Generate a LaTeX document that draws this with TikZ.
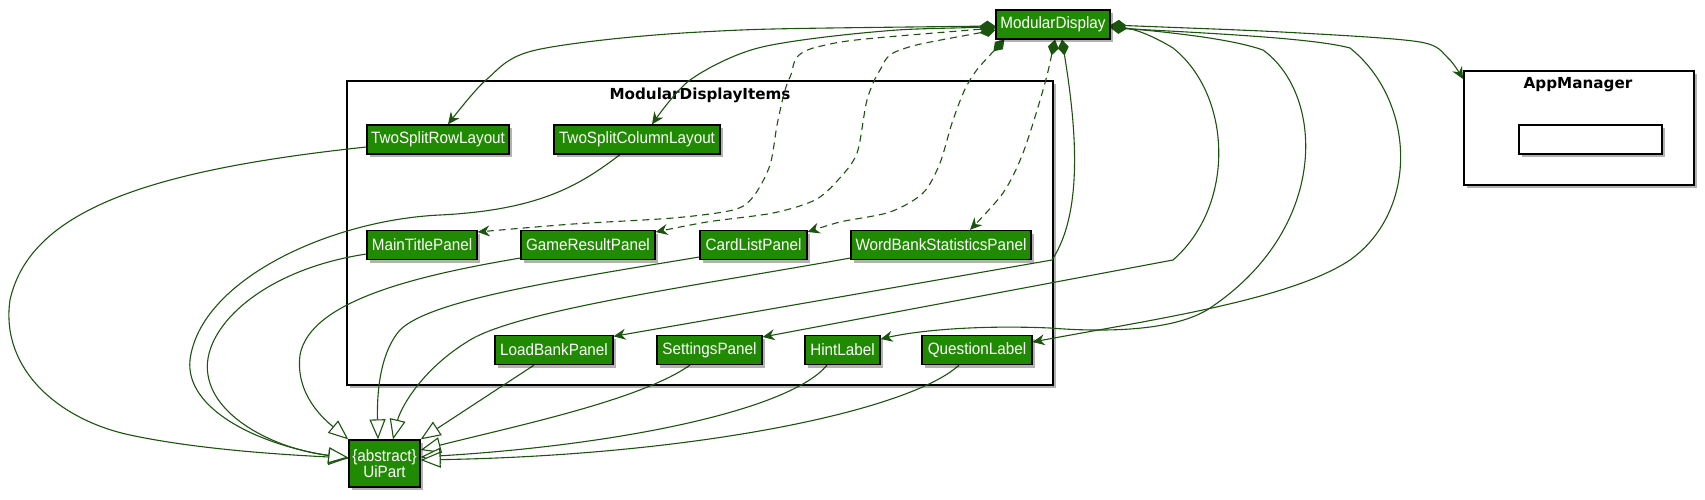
\documentclass[tikz,border=0pt]{standalone}
\usepackage{fontspec}
\setmainfont{Liberation Sans}
\newfontfamily\classfont{Liberation Sans}[FakeStretch=0.93]
\newfontfamily\titlefont{DejaVu Sans}
\usetikzlibrary{arrows.meta,shadows,calc}
\pgfdeclarelayer{bg}
\pgfdeclarelayer{edges}
\pgfsetlayers{bg,edges,main}
\definecolor{cfill}{RGB}{33,138,3}
\definecolor{ecol}{RGB}{26,84,14}
\begin{document}
\begin{tikzpicture}[x=1pt,y=-1pt,
  shad/.style={drop shadow={shadow xshift=3pt,shadow yshift=-3pt,opacity=0.3,fill=black}},
  cls/.style={draw=black,line width=1.3pt,fill=cfill,text=white,inner sep=0pt,minimum height=29pt,
    font=\classfont\fontsize{16.4}{17}\selectfont,shad},
  frm/.style={draw=black,line width=1.8pt,fill=white,inner sep=0pt,shad},
  ttl/.style={font=\titlefont\bfseries\fontsize{15.2}{17}\selectfont,inner sep=0pt},
  comp/.style={draw=ecol,line width=1.1pt,{Diamond[length=16pt,width=11pt,fill=ecol]}-{Stealth[length=12pt,width=11pt,inset=4pt,fill=ecol]}},
  compd/.style={comp,dash pattern=on 7pt off 5pt},
  inh/.style={draw=ecol,line width=1.1pt,-{Triangle[length=20pt,width=16pt,fill=white]}},
]
\useasboundingbox (0,0) rectangle (1705,499);

% frames
\begin{pgfonlayer}{bg}
\node[frm,minimum width=706pt,minimum height=304pt] (mdi) at (700,233) {};
\node[ttl] (mdititle) at (700,95) {ModularDisplayItems};
\node[frm,minimum width=230pt,minimum height=114pt] (am) at (1579,128) {};
\node[ttl] (amtitle) at (1578,85) {AppManager};
\node[draw=black,line width=1.3pt,fill=white,minimum width=143pt,minimum height=29pt,inner sep=0pt,shad] (aminner) at (1590.5,139.5) {};
\end{pgfonlayer}

% classes
\node[cls,minimum width=114pt] (md) at (1053,24.5) {ModularDisplay};
\node[cls,minimum width=142pt] (tsrl) at (438,139.5) {TwoSplitRowLayout};
\node[cls,minimum width=166pt] (tscl) at (637,139.5) {TwoSplitColumnLayout};
\node[cls,minimum width=110pt] (mtp) at (422,245) {MainTitlePanel};
\node[cls,minimum width=134pt] (grp) at (588,245) {GameResultPanel};
\node[cls,minimum width=107pt] (clp) at (753.5,245) {CardListPanel};
\node[cls,minimum width=180pt] (wbsp) at (941,245) {WordBankStatisticsPanel};
\node[cls,minimum width=118pt] (lbp) at (554,350) {LoadBankPanel};
\node[cls,minimum width=105pt] (sp) at (709.5,350) {SettingsPanel};
\node[cls,minimum width=75pt] (hl) at (842.5,350) {HintLabel};
\node[cls,minimum width=110pt] (ql) at (977,350) {QuestionLabel};
\node[cls,minimum width=71pt,minimum height=47pt,align=center,font=\classfont\fontsize{16.4}{15.5}\selectfont] (ui) at (384.5,463.5) {\{abstract\}\\UiPart};

\begin{pgfonlayer}{edges}
% composition from ModularDisplay
\draw[comp] plot[smooth,tension=0.5] coordinates {($(md.west)+(0,1.5)$) (700,32) (536,50) (486,80) ($(tsrl.north)+(10,0)$)};
\draw[comp] plot[smooth,tension=0.5] coordinates {($(md.west)+(0,2.5)$) (873,32) (758,48) (690,80) ($(tscl.north)+(15,0)$)};
\draw[compd] plot[smooth,tension=0.5] coordinates {($(md.west)+(0,3.5)$) (817,47) (790,77) (778,120) (770,165) (753,197) (733,210) (673,218) (573,224) ($(mtp.east)+(0,-13)$)};
\draw[compd] plot[smooth,tension=0.5] coordinates {($(md.west)+(0,5.5)$) (900,50) (880,70) (867,100) (857,153) (838,180) (815,200) (773,213) (707,222) ($(grp.east)+(0,-13)$)};
\draw[compd] plot[smooth,tension=0.5] coordinates {($(md.south west)+(9,0)$) (970,80) (953,120) (940,163) (923,193) (890,212) (840,222) ($(clp.east)+(0,-13)$)};
\draw[compd] plot[smooth,tension=0.5] coordinates {($(md.south)+(2,0)$) (1043,90) (1023,153) (1003,193) ($(wbsp.north)+(29,0)$)};
\draw[comp] ($(md.south)+(9,0)$) .. controls (1075,120) and (1085,210) .. (1052,260) -- ($(lbp.north east)+(0,1.5)$);
\draw[comp] ($(md.east)+(0,1.5)$) .. controls (1140,30) and (1160,40) .. (1173,48) .. controls (1232,95) and (1236,205) .. (1173,260) -- ($(sp.east)+(0,-13)$);
\draw[comp] ($(md.east)+(0,2.5)$) .. controls (1200,35) and (1240,42) .. (1263,50) .. controls (1325,95) and (1330,230) .. (1207,310) .. controls (1170,332) and (1100,332) .. (1050,328) .. controls (980,325) and (920,330) .. ($(hl.east)+(0,-11)$);
\draw[comp] ($(md.east)+(0,3.5)$) .. controls (1250,35) and (1320,40) .. (1350,48) .. controls (1415,100) and (1420,210) .. (1350,260) .. controls (1290,300) and (1150,320) .. ($(ql.east)+(0,-8)$);
\draw[comp] plot[smooth,tension=0.5] coordinates {($(md.east)+(0,0.5)$) (1300,33) (1420,42) (1448,58) ($(am.north west)+(0,9)$)};

% inheritance to UiPart
\draw[inh] ($(tsrl.west)+(0,7.5)$) .. controls (150,170) and (30,210) .. (10,300) .. controls (0,370) and (60,420) .. (130,435) .. controls (200,450) and (290,455) .. ($(ui.west)+(0,-5.5)$);
\draw[inh] ($(tscl.south)+(-17,0)$) .. controls (580,185) and (540,210) .. (440,215) .. controls (330,220) and (200,280) .. (190,360) .. controls (185,410) and (260,445) .. ($(ui.west)+(0,-5)$);
\draw[inh] ($(mtp.west)+(0,9)$) .. controls (260,270) and (200,330) .. (208,375) .. controls (215,420) and (280,450) .. ($(ui.west)+(0,-6)$);
\draw[inh] ($(grp.west)+(0,13)$) .. controls (420,275) and (310,300) .. (300,355) .. controls (295,395) and (325,420) .. (ui.north west);
\draw[inh] ($(clp.west)+(0,12)$) .. controls (560,280) and (430,300) .. (400,330) .. controls (378,355) and (377,400) .. ($(ui.north)+(-6.5,0)$);
\draw[inh] ($(wbsp.west)+(0,13)$) .. controls (700,285) and (520,310) .. (470,340) .. controls (420,370) and (400,410) .. ($(ui.north)+(8.5,0)$);
\draw[inh] ($(lbp.south)+(-20,0)$) -- (ui.north east);
\draw[inh] ($(sp.south)+(-19.5,0)$) .. controls (640,400) and (520,425) .. ($(ui.east)+(0,-13.5)$);
\draw[inh] ($(hl.south)+(-15.5,0)$) .. controls (790,410) and (620,445) .. ($(ui.east)+(0,-6.5)$);
\draw[inh] ($(ql.south)+(-18,0)$) .. controls (910,410) and (700,455) .. ($(ui.east)+(0,-3.5)$);
\end{pgfonlayer}
\end{tikzpicture}
\end{document}
